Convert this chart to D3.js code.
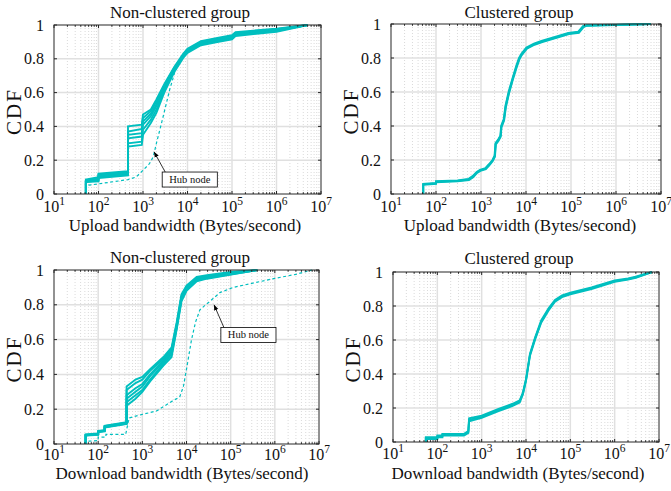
<!DOCTYPE html>
<html><head><meta charset="utf-8">
<script src="https://cdn.jsdelivr.net/npm/d3@7"></script>
<style>body{margin:0;background:#fff}svg{display:block}text{font-family:"Liberation Serif","Times New Roman",serif;fill:#111}</style>
</head><body><svg id="c" width="671" height="491"></svg>
<script>
// ---------- data ----------
const xTickExps = [1,2,3,4,5,6,7];
const yTicks = [0,0.2,0.4,0.6,0.8,1];
const yTickLabels = ["0","0.2","0.4","0.6","0.8","1"];
const titles = ["Non-clustered group","Clustered group","Non-clustered group","Clustered group"];
const xLabels = ["Upload bandwidth (Bytes/second)","Upload bandwidth (Bytes/second)","Download bandwidth (Bytes/second)","Download bandwidth (Bytes/second)"];

// Non-clustered upload, 6 nodes
const ncUp1 = [[52,0],[52,0.085],[100,0.10],[100,0.12],[460,0.135],[460,0.40],[940,0.41],[1000,0.47],[1500,0.50],[2000,0.56],[3000,0.65],[5000,0.75],[8000,0.83],[10000,0.86],[20000,0.905],[50000,0.925],[100000,0.94],[120000,0.958],[1e6,0.978],[5e6,1.0]];
const ncUp2 = [[52,0],[52,0.08],[100,0.095],[100,0.115],[460,0.13],[460,0.37],[940,0.385],[1000,0.45],[1500,0.49],[2000,0.545],[3000,0.64],[5000,0.745],[8000,0.825],[10000,0.855],[20000,0.90],[50000,0.92],[100000,0.935],[120000,0.953],[1e6,0.975],[5e6,1.0]];
const ncUp3 = [[52,0],[52,0.078],[100,0.09],[100,0.11],[460,0.125],[460,0.35],[940,0.36],[1000,0.43],[1500,0.475],[2000,0.53],[3000,0.63],[5000,0.74],[8000,0.82],[10000,0.85],[20000,0.895],[50000,0.915],[100000,0.93],[120000,0.948],[1e6,0.972],[5e6,1.0]];
const ncUp4 = [[52,0],[52,0.075],[100,0.085],[100,0.105],[460,0.12],[460,0.33],[940,0.34],[1000,0.41],[1500,0.46],[2000,0.52],[3000,0.62],[5000,0.735],[8000,0.815],[10000,0.845],[20000,0.89],[50000,0.91],[100000,0.925],[120000,0.944],[1e6,0.968],[5e6,1.0]];
const ncUp5 = [[52,0],[52,0.072],[100,0.08],[100,0.10],[460,0.115],[460,0.30],[940,0.31],[1000,0.38],[1500,0.44],[2000,0.50],[3000,0.61],[5000,0.725],[8000,0.81],[10000,0.84],[20000,0.885],[50000,0.905],[100000,0.92],[120000,0.94],[1e6,0.965],[5e6,1.0]];
const ncUp6 = [[52,0],[52,0.07],[100,0.075],[100,0.095],[460,0.11],[460,0.28],[940,0.29],[1000,0.35],[1500,0.42],[2000,0.48],[3000,0.60],[5000,0.72],[8000,0.805],[10000,0.835],[20000,0.88],[50000,0.90],[100000,0.915],[120000,0.935],[1e6,0.96],[5e6,1.0]];
const ncUpHub = [[52,0],[52,0.05],[100,0.06],[460,0.085],[700,0.10],[1000,0.14],[1400,0.18],[1700,0.22],[2000,0.30],[2500,0.40],[3100,0.50],[4000,0.62],[5300,0.73],[7000,0.80],[10000,0.845],[20000,0.885],[50000,0.905],[100000,0.92],[120000,0.94],[1e6,0.962],[5e6,1.0]];

// Clustered upload
const cUp1 = [[52,0],[52,0.06],[100,0.065],[100,0.075],[300,0.08],[520,0.088],[650,0.105],[800,0.13],[950,0.142],[1250,0.152],[1500,0.175],[1800,0.2],[2000,0.225],[2100,0.30],[2400,0.32],[2700,0.345],[2800,0.40],[3200,0.44],[3500,0.52],[4100,0.60],[5000,0.68],[6100,0.755],[7000,0.80],[7900,0.825],[10200,0.862],[15000,0.885],[22000,0.90],[50000,0.928],[87000,0.948],[145000,0.955],[185000,0.988],[220000,0.993],[1e6,0.996],[6e6,1.0]];
const cUp2 = [[52,0],[52,0.054],[100,0.059],[100,0.069],[300,0.074],[540,0.082],[670,0.099],[820,0.124],[970,0.136],[1280,0.146],[1530,0.169],[1830,0.194],[2040,0.219],[2140,0.292],[2440,0.312],[2740,0.337],[2850,0.392],[3260,0.432],[3580,0.512],[4200,0.592],[5100,0.672],[6250,0.747],[7150,0.792],[8050,0.817],[10500,0.855],[15500,0.878],[23000,0.893],[52000,0.921],[90000,0.941],[150000,0.948],[190000,0.982],[225000,0.99],[1e6,0.994],[6e6,1.0]];
const cUp3 = [[52,0],[52,0.057],[100,0.062],[100,0.072],[300,0.077],[530,0.085],[660,0.102],[810,0.127],[960,0.139],[1260,0.149],[1510,0.172],[1810,0.197],[2020,0.222],[2120,0.296],[2420,0.316],[2720,0.341],[2830,0.396],[3230,0.436],[3540,0.516],[4150,0.596],[5050,0.676],[6180,0.751],[7080,0.796],[7980,0.821],[10350,0.858],[15250,0.881],[22500,0.896],[51000,0.924],[88000,0.944],[148000,0.951],[188000,0.985],[222000,0.991],[1e6,0.995],[6e6,1.0]];

// Non-clustered download, 6 nodes
const ncDn1 = [[52,0],[52,0.055],[100,0.06],[100,0.075],[140,0.08],[140,0.105],[440,0.125],[440,0.33],[700,0.37],[1000,0.385],[1500,0.43],[3000,0.50],[4600,0.555],[6000,0.70],[7700,0.86],[10000,0.91],[17000,0.96],[29000,0.97],[110000,0.99],[400000,1.0]];
const ncDn2 = [[52,0],[52,0.053],[100,0.058],[100,0.073],[140,0.078],[140,0.103],[440,0.123],[440,0.31],[700,0.35],[1000,0.37],[1500,0.42],[3000,0.49],[4600,0.545],[6000,0.69],[7700,0.85],[10000,0.90],[17000,0.955],[29000,0.965],[110000,0.985],[400000,1.0]];
const ncDn3 = [[52,0],[52,0.052],[100,0.057],[100,0.072],[140,0.077],[140,0.1],[440,0.12],[440,0.28],[700,0.32],[1000,0.345],[1500,0.40],[3000,0.48],[4600,0.535],[6000,0.68],[7700,0.845],[10000,0.895],[17000,0.95],[29000,0.96],[110000,0.982],[400000,1.0]];
const ncDn4 = [[52,0],[52,0.05],[100,0.055],[100,0.07],[140,0.075],[140,0.098],[440,0.118],[440,0.26],[700,0.30],[1000,0.33],[1500,0.39],[3000,0.47],[4600,0.525],[6000,0.675],[7700,0.84],[10000,0.89],[17000,0.945],[29000,0.957],[110000,0.98],[400000,1.0]];
const ncDn5 = [[52,0],[52,0.05],[100,0.055],[100,0.07],[140,0.075],[140,0.097],[440,0.117],[440,0.24],[700,0.28],[1000,0.31],[1500,0.37],[3000,0.46],[4600,0.515],[6000,0.665],[7700,0.83],[10000,0.885],[17000,0.94],[29000,0.953],[110000,0.977],[400000,1.0]];
const ncDn6 = [[52,0],[52,0.048],[100,0.053],[100,0.068],[140,0.073],[140,0.095],[440,0.115],[440,0.22],[700,0.26],[1000,0.30],[1500,0.36],[3000,0.45],[4600,0.50],[6000,0.66],[7700,0.82],[10000,0.88],[17000,0.935],[29000,0.95],[110000,0.975],[400000,1.0]];
const ncDnHub = [[52,0],[52,0.015],[100,0.02],[100,0.04],[150,0.04],[150,0.055],[420,0.055],[500,0.15],[1000,0.17],[2100,0.19],[5000,0.25],[7000,0.27],[8500,0.33],[10000,0.43],[13000,0.60],[16000,0.70],[20000,0.77],[27000,0.80],[34000,0.82],[57000,0.87],[115000,0.90],[1e6,0.952],[3e6,0.975],[7e6,1.0]];

// Clustered download
const cDn1 = [[55,0],[55,0.028],[100,0.028],[100,0.038],[130,0.038],[130,0.048],[400,0.048],[500,0.065],[520,0.14],[1000,0.155],[2400,0.195],[5000,0.225],[7200,0.245],[8500,0.29],[10000,0.37],[12300,0.52],[16000,0.615],[22000,0.715],[32000,0.785],[45000,0.835],[65000,0.862],[100000,0.878],[300000,0.91],[1e6,0.95],[2e6,0.962],[3e6,0.972],[5e6,0.99],[7e6,1.0]];
const cDn2 = [[55,0],[55,0.018],[100,0.018],[100,0.028],[130,0.028],[130,0.038],[400,0.038],[500,0.053],[520,0.122],[1000,0.142],[2400,0.182],[5000,0.212],[7200,0.232],[8500,0.28],[10000,0.36],[12300,0.508],[16000,0.602],[22000,0.702],[32000,0.772],[45000,0.825],[65000,0.852],[100000,0.868],[300000,0.9],[1e6,0.942],[2e6,0.955],[3e6,0.966],[5e6,0.986],[7e6,1.0]];
const cDn3 = [[55,0],[55,0.023],[100,0.023],[100,0.033],[130,0.033],[130,0.043],[400,0.043],[500,0.059],[520,0.131],[1000,0.148],[2400,0.188],[5000,0.218],[7200,0.238],[8500,0.285],[10000,0.365],[12300,0.514],[16000,0.608],[22000,0.708],[32000,0.778],[45000,0.83],[65000,0.857],[100000,0.873],[300000,0.905],[1e6,0.946],[2e6,0.958],[3e6,0.969],[5e6,0.988],[7e6,1.0]];

const solidSeries = [
  [ncUp1,ncUp2,ncUp3,ncUp4,ncUp5,ncUp6],
  [cUp1,cUp2,cUp3],
  [ncDn1,ncDn2,ncDn3,ncDn4,ncDn5,ncDn6],
  [cDn1,cDn2,cDn3]
];
const hubSeries = [ncUpHub, null, ncDnHub, null];
// annotations: arrow tip (value,cdf), box top-left (value,cdf)
const hubNotes = [
  {tip:[1770,0.25], box:[2700,0.13]},
  null,
  {tip:[42000,0.80], box:[60000,0.67]},
  null
];

// ---------- layout ----------
const frames = [
  {x0:54, x1:321, y0:25, y1:194, titleX:180, titleY:18, labelX:185, labelY:231, tickDy:18},
  {x0:391, x1:661, y0:24, y1:194, titleX:519, titleY:18, labelX:520, labelY:231, tickDy:18},
  {x0:54, x1:319, y0:270, y1:444, titleX:180, titleY:263, labelX:182, labelY:479, tickDy:16},
  {x0:393, x1:659, y0:272, y1:442, titleX:519, titleY:264, labelX:518, labelY:479, tickDy:17}
];
const color = "#00BFBF";
const svg = d3.select("#c");
svg.append("defs").append("marker").attr("id","ah").attr("viewBox","0 0 10 10")
  .attr("refX",10).attr("refY",5).attr("markerWidth",7).attr("markerHeight",7).attr("orient","auto-start-reverse")
  .append("path").attr("d","M0,1 L10,5 L0,9 z").attr("fill","#000");

frames.forEach((f,i)=>{
  const x = d3.scaleLog().domain([10,1e7]).range([f.x0,f.x1]);
  const y = d3.scaleLinear().domain([0,1]).range([f.y1,f.y0]);
  const g = svg.append("g");
  const minors = [];
  for (let e=1;e<7;e++) for (let m=2;m<=9;m++) minors.push(m*Math.pow(10,e));
  const majors = xTickExps.map(e=>Math.pow(10,e));
  // grid
  g.selectAll(".mg").data(minors).join("line")
    .attr("x1",d=>x(d)).attr("x2",d=>x(d)).attr("y1",f.y0).attr("y2",f.y1)
    .attr("stroke","#d0d0d0").attr("stroke-width",0.8).attr("stroke-dasharray","1,2");
  g.selectAll(".Mg").data(majors.slice(1,-1)).join("line")
    .attr("x1",d=>x(d)).attr("x2",d=>x(d)).attr("y1",f.y0).attr("y2",f.y1)
    .attr("stroke","#e0e0e0").attr("stroke-width",1.5);
  g.selectAll(".yg").data(yTicks.slice(1,-1)).join("line")
    .attr("x1",f.x0).attr("x2",f.x1).attr("y1",d=>y(d)).attr("y2",d=>y(d))
    .attr("stroke","#e0e0e0").attr("stroke-width",1.5);
  // series
  const line = d3.line().x(d=>x(d[0])).y(d=>y(d[1]));
  solidSeries[i].forEach(s=>{
    g.append("path").attr("d",line(s)).attr("fill","none").attr("stroke",color).attr("stroke-width",1.9);
  });
  if (hubSeries[i]) {
    g.append("path").attr("d",line(hubSeries[i])).attr("fill","none").attr("stroke",color)
      .attr("stroke-width",1.2).attr("stroke-dasharray","3,2.5");
  }
  // box + ticks
  g.append("rect").attr("x",f.x0).attr("y",f.y0).attr("width",f.x1-f.x0).attr("height",f.y1-f.y0)
    .attr("fill","none").attr("stroke","#262626").attr("stroke-width",1);
  const tk = g.append("g").attr("stroke","#262626").attr("stroke-width",1);
  minors.forEach(v=>{
    tk.append("line").attr("x1",x(v)).attr("x2",x(v)).attr("y1",f.y1).attr("y2",f.y1-1.8);
    tk.append("line").attr("x1",x(v)).attr("x2",x(v)).attr("y1",f.y0).attr("y2",f.y0+1.8);
  });
  majors.forEach(v=>{
    tk.append("line").attr("x1",x(v)).attr("x2",x(v)).attr("y1",f.y1).attr("y2",f.y1-3);
    tk.append("line").attr("x1",x(v)).attr("x2",x(v)).attr("y1",f.y0).attr("y2",f.y0+3);
  });
  yTicks.forEach(v=>{
    tk.append("line").attr("x1",f.x0).attr("x2",f.x0+3).attr("y1",y(v)).attr("y2",y(v));
    tk.append("line").attr("x1",f.x1).attr("x2",f.x1-3).attr("y1",y(v)).attr("y2",y(v));
  });
  // tick labels
  xTickExps.forEach(e=>{
    const t = g.append("text").attr("x",x(Math.pow(10,e))).attr("y",f.y1+f.tickDy).attr("text-anchor","middle").attr("font-size",16);
    t.append("tspan").text("10");
    t.append("tspan").attr("dy",-7).attr("font-size",11.5).text(String(e));
  });
  yTicks.forEach((v,k)=>{
    g.append("text").attr("x",f.x0-10).attr("y",y(v)).attr("dy","0.35em").attr("text-anchor","end").attr("font-size",16).text(yTickLabels[k]);
  });
  // labels
  g.append("text").attr("x",f.titleX).attr("y",f.titleY).attr("text-anchor","middle").attr("font-size",17).text(titles[i]);
  g.append("text").attr("x",f.labelX).attr("y",f.labelY).attr("text-anchor","middle").attr("font-size",17).text(xLabels[i]);
  g.append("text").attr("transform",`translate(${f.x0-33},${(f.y0+f.y1)/2+2}) rotate(-90)`).attr("text-anchor","middle")
    .attr("font-size",21).attr("letter-spacing",2).text("CDF");
  // annotation
  const n = hubNotes[i];
  if (n) {
    const bx = x(n.box[0]), by = y(n.box[1]);
    const t = g.append("text").attr("x",bx+7).attr("y",by+11).attr("font-size",10.5).text("Hub node");
    const w = t.node().getComputedTextLength();
    g.append("rect").attr("x",bx).attr("y",by).attr("width",w+14).attr("height",15)
      .attr("fill","#fff").attr("stroke","#000").attr("stroke-width",0.8);
    t.raise();
    g.append("line").attr("x1",bx+3).attr("y1",by).attr("x2",x(n.tip[0])).attr("y2",y(n.tip[1]))
      .attr("stroke","#000").attr("stroke-width",0.8).attr("marker-end","url(#ah)");
  }
});
</script></body></html>
